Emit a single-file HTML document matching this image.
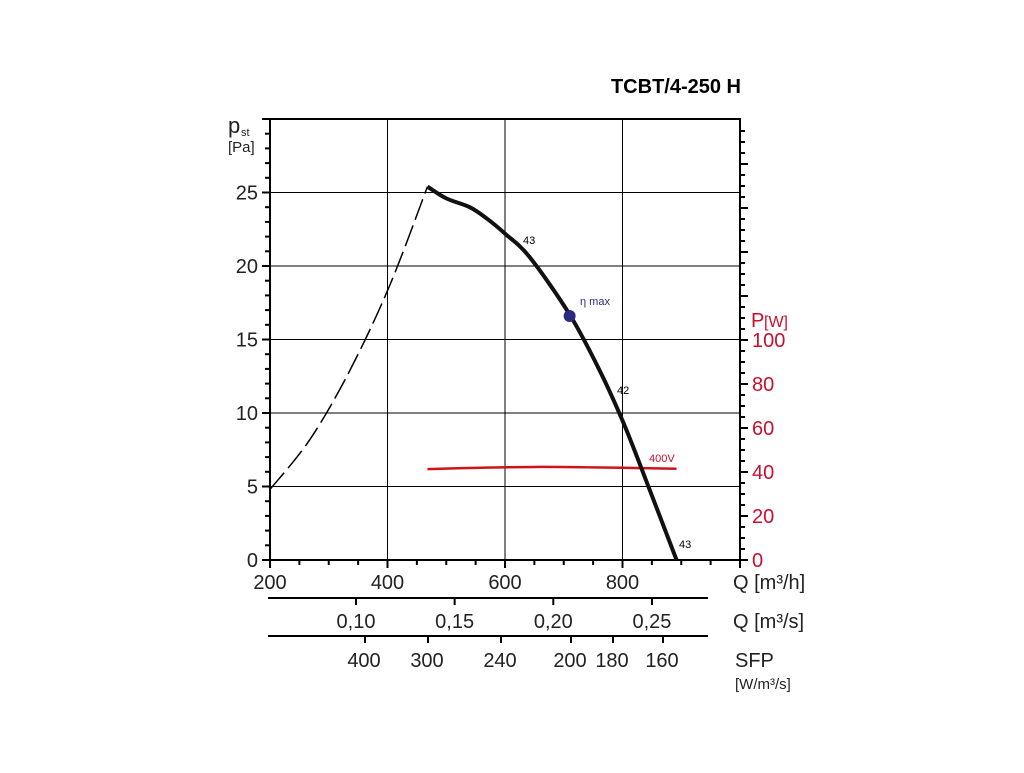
<!DOCTYPE html>
<html><head><meta charset="utf-8"><style>
body{margin:0;background:#fff;width:1024px;height:768px;overflow:hidden}
text{font-family:"Liberation Sans",sans-serif}
</style></head><body>
<svg id="c" width="1024" height="768">
<text x="741" y="93" font-size="20" font-weight="bold" text-anchor="end">TCBT/4-250 H</text>
<g id="g"></g>
</svg>
<script>
const pressureQ=[468,500,540,570,600,642,710,761,803,846,892];
const pressureP=[25.4,24.6,24.0,23.2,22.2,20.6,16.7,12.9,9.2,4.8,0];
const dashedQ=[200,268,336,404,468];
const dashedP=[4.8,8.2,12.9,18.7,25.4];
const powerQ=[468,550,650,750,892];
const powerW=[41.3,41.9,42.3,42.1,41.5];
const etaMax=[710,16.6];
const qTicks=[200,400,600,800];
const pTicks=[0,5,10,15,20,25];
const wTicks=[0,20,40,60,80,100];
const m3sTicks=[0.10,0.15,0.20,0.25];
const sfpTicks=[400,300,240,200,180,160];
const sfpX=[365,428,501,571,613,663];
const X=q=>270+(q-200)*470/800;
const Y=p=>560-p*441/30;
const YW=w=>560-w*2.2;
const XS=v=>356+(v-0.10)*1973;
const NS="http://www.w3.org/2000/svg";
const g=document.getElementById('g');
function el(t,a,txt){const e=document.createElementNS(NS,t);for(const k in a)e.setAttribute(k,a[k]);if(txt!==undefined)e.textContent=txt;g.appendChild(e);return e;}
for(const q of [400,600,800]){const e=el('line',{x1:X(q),x2:X(q),y1:119,y2:560,stroke:'#000','stroke-width':1});

}
for(const p of [5,10,15,20,25]){const e=el('line',{x1:270,x2:740,y1:Y(p),y2:Y(p),stroke:'#000','stroke-width':1});

}
const fr=el('rect',{x:270,y:119,width:470,height:441,fill:'none',stroke:'#000','stroke-width':2});


for(let p=0;p<=30;p++){const e=el('line',{x1:p%5==0?262:265,x2:270,y1:Y(p),y2:Y(p),stroke:'#000','stroke-width':2});

}
for(const p of pTicks){const e=el('text',{x:258,y:Y(p)+7,'font-size':20,'text-anchor':'end',fill:'#222'},p);

}
for(let w=0;w<=195;w+=5){if(YW(w)<119)break;const e=el('line',{x1:740,x2:w%20==0?748:745,y1:YW(w),y2:YW(w),stroke:'#000','stroke-width':2});

}
for(const w of wTicks){const e=el('text',{x:752,y:YW(w)+7,'font-size':20,fill:'#c8102e'},w);

}
for(let q=200;q<=1000;q+=50){const e=el('line',{x1:X(q),x2:X(q),y1:560,y2:q%200==0?568:565,stroke:'#000','stroke-width':2});

}
for(const q of qTicks){const e=el('text',{x:X(q),y:589,'font-size':20,'text-anchor':'middle',fill:'#222'},q);

}
const a1=el('line',{x1:268,x2:708,y1:598,y2:598,stroke:'#000','stroke-width':2});


for(const v of m3sTicks){const x=XS(v);const e=el('line',{x1:x,x2:x,y1:598,y2:605,stroke:'#000','stroke-width':2});


const t=el('text',{x:x,y:628,'font-size':20,'text-anchor':'middle',fill:'#222'},v.toFixed(2).replace('.',','));

}
const a2=el('line',{x1:268,x2:708,y1:636,y2:636,stroke:'#000','stroke-width':2});


sfpTicks.forEach((v,i)=>{const e=el('line',{x1:sfpX[i],x2:sfpX[i],y1:636,y2:643,stroke:'#000','stroke-width':2});


const t=el('text',{x:sfpX[i]-1,y:667,'font-size':20,'text-anchor':'middle',fill:'#222'},v);

});
const lbl=[[733,589,'Q [m³/h]',20,'#222','x-axis-title'],[733,628,'Q [m³/s]',20,'#222','m3s-axis-title'],[735,667,'SFP',20,'#222','sfp-axis-title'],[735,689,'[W/m³/s]',15,'#222','sfp-unit'],[228,133,'p',22,'#222','y-axis-title'],[228,152,'[Pa]',15,'#222','y-axis-unit'],[751,327,'P',20,'#c8102e','power-axis-title'],[764,327,'[W]',16,'#c8102e','power-axis-unit']];
for(const l of lbl){const e=el('text',{x:l[0],y:l[1],'font-size':l[3],fill:l[4]},l[2]);

}
const st=el('text',{x:241,y:136,'font-size':11,fill:'#222'},'st');


function smooth(xs,ys,fx,fy){const P=xs.map((x,i)=>[fx(x),fy(ys[i])]);let d='M'+P[0];for(let i=0;i<P.length-1;i++){const p0=P[i-1]||P[i],p1=P[i],p2=P[i+1],p3=P[i+2]||p2;d+=' C'+(p1[0]+(p2[0]-p0[0])/6)+' '+(p1[1]+(p2[1]-p0[1])/6)+','+(p2[0]-(p3[0]-p1[0])/6)+' '+(p2[1]-(p3[1]-p1[1])/6)+','+p2[0]+' '+p2[1];}return d;}
const dsh=el('path',{d:smooth(dashedQ,dashedP,X,Y),fill:'none',stroke:'#000','stroke-width':1.5,'stroke-dasharray':'22 6'});


const pw=el('path',{d:smooth(powerQ,powerW,X,YW),fill:'none',stroke:'#d0121b','stroke-width':2.5});


const pc=el('path',{d:smooth(pressureQ,pressureP,X,Y),fill:'none',stroke:'#111','stroke-width':4});


const dot=el('circle',{cx:X(etaMax[0]),cy:Y(etaMax[1]),r:6,fill:'#2a2a80'});


const ann=[[580,305,'η max','#2a2a80','eta-max-label'],[523,244,'43','#000','sound-label-1'],[617,394,'42','#000','sound-label-2'],[679,548,'43','#000','sound-label-3'],[649,462,'400V','#c8102e','voltage-label']];
for(const a of ann){const e=el('text',{x:a[0],y:a[1],'font-size':11,fill:a[3]},a[2]);

}
</script>
</body></html>
